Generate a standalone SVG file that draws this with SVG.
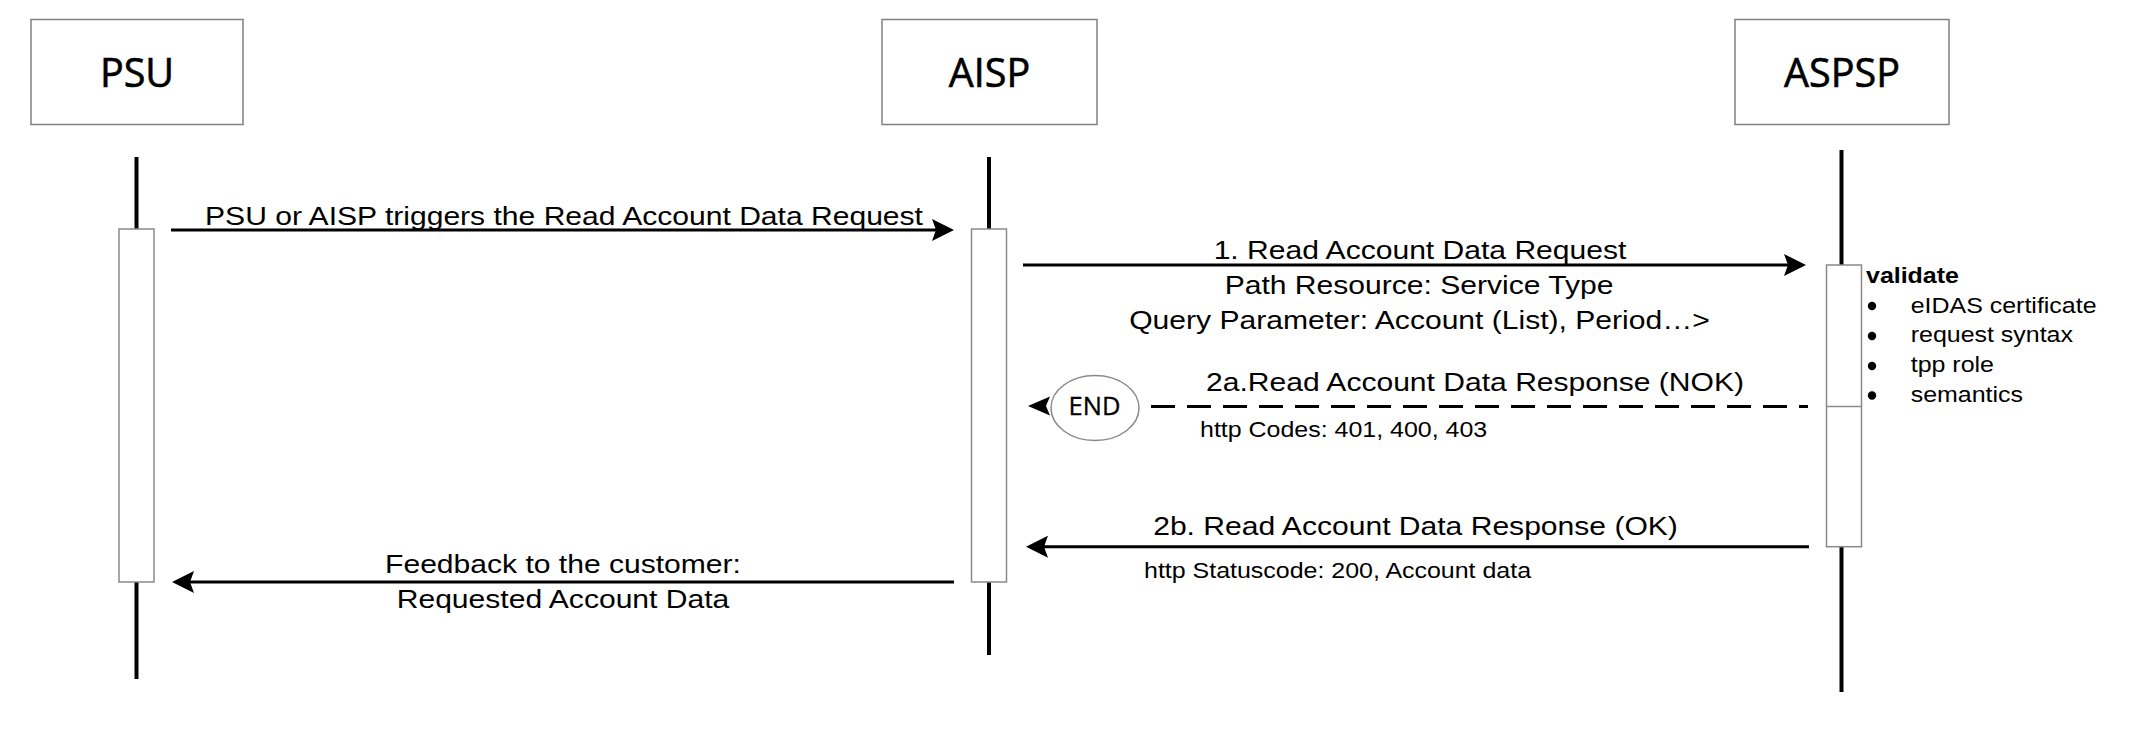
<svg xmlns="http://www.w3.org/2000/svg" width="2156" height="736" viewBox="0 0 2156 736">
<defs>
<style>
.hdr{fill:#fff;stroke:#808080;stroke-width:1.5}
.hl{font-family:"Open Sans","Liberation Sans",sans-serif;font-size:39.5px;fill:#000;text-anchor:middle;stroke:#000;stroke-width:0.6}
.life{stroke:#000;stroke-width:4;fill:none}
.act{fill:#fff;stroke:#8a8a8a;stroke-width:1.5}
.msg{stroke:#000;stroke-width:3;fill:none}
.t{font-family:"Liberation Sans",Arial,sans-serif;font-size:26.5px;fill:#000}
.s{font-family:"Liberation Sans",Arial,sans-serif;font-size:22px;fill:#000}
.b{font-weight:bold}
.c{text-anchor:middle}
.dot{fill:#000}
</style>
<marker id="ah" viewBox="0 0 22 22" refX="14" refY="11" markerWidth="22" markerHeight="22" orient="auto" markerUnits="userSpaceOnUse">
<path d="M0,0 L22,11 L0,22 L4,11 Z" fill="#000"/>
</marker>
</defs>
<rect width="2156" height="736" fill="#fff"/>

<g id="lifelines">
<line class="life" x1="136.5" y1="157" x2="136.5" y2="679"/>
<line class="life" x1="989" y1="157" x2="989" y2="655"/>
<line class="life" x1="1841.5" y1="150" x2="1841.5" y2="692"/>
</g>

<g id="PSU">
<rect class="hdr" x="31" y="19.5" width="212" height="105"/>
<text class="hl" x="137" y="86.5">PSU</text>
<rect class="act" x="119" y="229" width="35" height="353"/>
</g>

<g id="AISP">
<rect class="hdr" x="882" y="19.5" width="215" height="105"/>
<text class="hl" x="989.5" y="86.5">AISP</text>
<rect class="act" x="971.5" y="229" width="35" height="353"/>
</g>

<g id="ASPSP">
<rect class="hdr" x="1735" y="19.5" width="214" height="105"/>
<text class="hl" x="1842" y="86.5">ASPSP</text>
<rect class="act" x="1826.5" y="265" width="35" height="281.7"/>
<line x1="1826.5" y1="406.5" x2="1861.5" y2="406.5" stroke="#8a8a8a" stroke-width="1.5"/>
</g>

<g id="validate-note">
<text class="s b" transform="translate(1866,282.5) scale(1.135,1)">validate</text>
<circle class="dot" cx="1872" cy="306" r="4.2"/>
<circle class="dot" cx="1872" cy="336" r="4.2"/>
<circle class="dot" cx="1872" cy="366" r="4.2"/>
<circle class="dot" cx="1872" cy="395.5" r="4.2"/>
<text class="s" transform="translate(1910.7,312.5) scale(1.135,1)">eIDAS certificate</text>
<text class="s" transform="translate(1910.7,342.2) scale(1.135,1)">request syntax</text>
<text class="s" transform="translate(1910.7,371.9) scale(1.135,1)">tpp role</text>
<text class="s" transform="translate(1910.7,401.6) scale(1.135,1)">semantics</text>
</g>

<g id="END">
<ellipse cx="1095" cy="408" rx="44" ry="32.5" fill="#fff" stroke="#8a8a8a" stroke-width="1.5"/>
<text x="1094.5" y="415" font-family="Open Sans, Liberation Sans, sans-serif" font-size="25.5" text-anchor="middle" stroke="#000" stroke-width="0.3">END</text>
</g>

<g id="connectors">
<line class="msg" x1="171" y1="230" x2="946" y2="230" marker-end="url(#ah)"/>
<line class="msg" x1="1023" y1="265" x2="1798" y2="265" marker-end="url(#ah)"/>
<line class="msg" x1="1151" y1="406.5" x2="1808" y2="406.5" stroke-dasharray="24 12"/>
<path d="M1028,406 L1050,396.5 L1046,406 L1050,415.5 Z" fill="#000"/>
<line class="msg" x1="1809" y1="546.7" x2="1034" y2="546.7" marker-end="url(#ah)"/>
<line class="msg" x1="954" y1="582" x2="180" y2="582" marker-end="url(#ah)"/>
</g>

<g id="labels">
<text class="t c" transform="translate(564,225) scale(1.135,1)">PSU or AISP triggers the Read Account Data Request</text>
<text class="t c" transform="translate(1420,259) scale(1.135,1)">1. Read Account Data Request</text>
<text class="t c" transform="translate(1419,294) scale(1.135,1)">Path Resource: Service Type</text>
<text class="t c" transform="translate(1419.5,329) scale(1.135,1)">Query Parameter: Account (List), Period…&gt;</text>
<text class="t c" transform="translate(1475,391) scale(1.135,1)">2a.Read Account Data Response (NOK)</text>
<text class="s" transform="translate(1200,437) scale(1.135,1)">http Codes: 401, 400, 403</text>
<text class="t c" transform="translate(1415.5,535) scale(1.135,1)">2b. Read Account Data Response (OK)</text>
<text class="s" transform="translate(1144,578) scale(1.135,1)">http Statuscode: 200, Account data</text>
<text class="t c" transform="translate(563,573) scale(1.135,1)">Feedback to the customer:</text>
<text class="t c" transform="translate(563,608) scale(1.135,1)">Requested Account Data</text>
</g>
</svg>
